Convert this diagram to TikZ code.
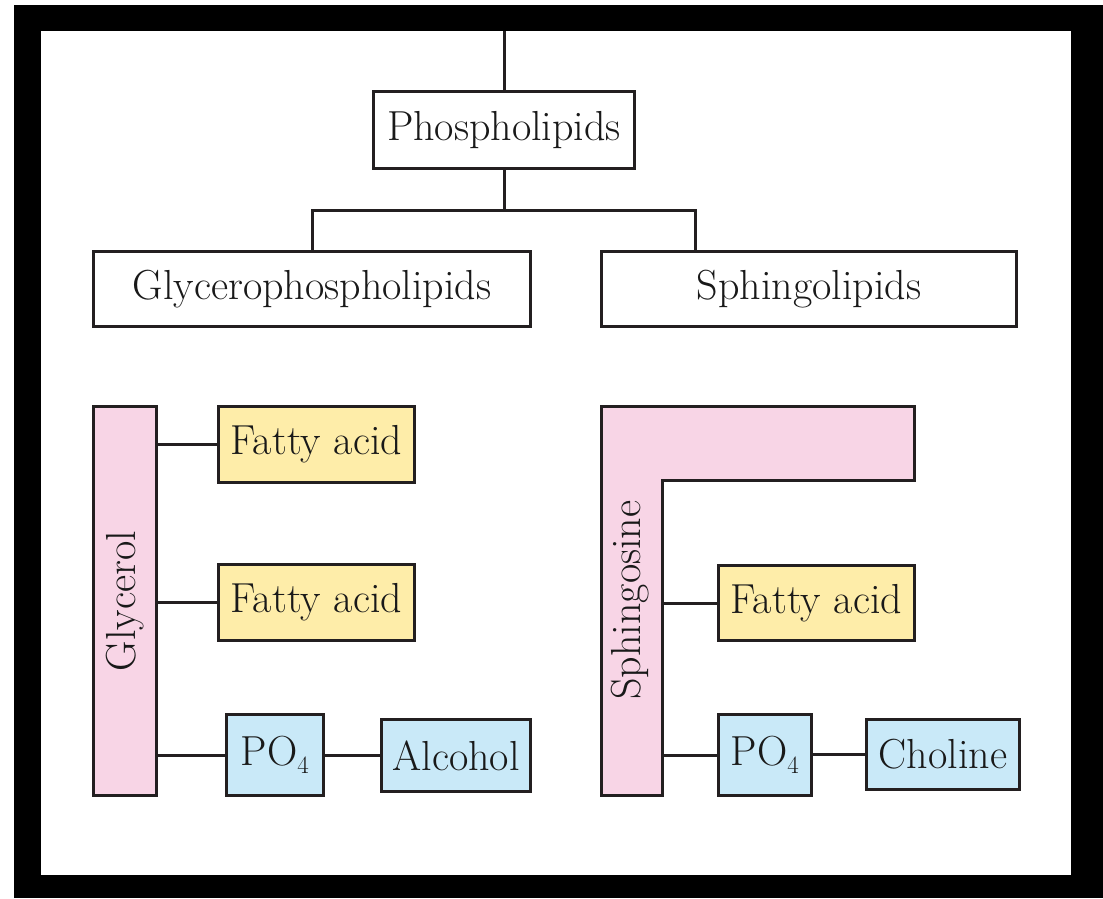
\documentclass[tikz,border=0pt]{standalone}
\definecolor{edge}{HTML}{231F20}
\definecolor{pinkfill}{HTML}{F8D5E6}
\definecolor{yellowfill}{HTML}{FEEDA9}
\definecolor{bluefill}{HTML}{C9E9F8}
\begin{document}
\begin{tikzpicture}[x=1pt,y=-1pt,
    every node/.style={font=\fontsize{42}{48}\selectfont, text=black!90},
    box/.style={draw=edge, line width=3pt, fill=white, inner sep=0pt},
    fatbox/.style={box, fill=yellowfill, minimum width=196pt, minimum height=76pt},
    phobox/.style={box, fill=bluefill},
    barbox/.style={box, fill=pinkfill}]
      \useasboundingbox (0,0) rectangle (1103,898);
      \fill[black] (14,5) rectangle (1103,898);
      \fill[white] (41,31) rectangle (1071,875);
      \draw
        (504,130) node[box, minimum width=261pt, minimum height=77pt] (phos){Phospholipids}
        (312,289) node[box, minimum width=437pt, minimum height=75pt] (glp){Glycerophospholipids}
        (809,289) node[box, minimum width=415pt, minimum height=75pt] (sph){Sphingolipids}
        (125,601) node[barbox, minimum width=63pt, minimum height=389pt] (gly){}
        (316.5,444.5) node[fatbox] (fa1){Fatty acid}
        (316.5,602.5) node[fatbox] (fa2){Fatty acid}
        (275,755) node[phobox, minimum width=97pt, minimum height=81pt] (po1){PO$_4$}
        (456,755.5) node[phobox, minimum width=149pt, minimum height=72pt] (alc){Alcohol}
        (816.5,603) node[fatbox, minimum height=75pt] (fa3){Fatty acid}
        (765,755) node[phobox, minimum width=93pt, minimum height=81pt] (po2){PO$_4$}
        (943,754.5) node[phobox, minimum width=153pt, minimum height=70pt] (cho){Choline};
      % sphingosine backbone
      \draw[barbox] (601.5,406.5) -- (914.5,406.5) -- (914.5,480.5) -- (662.5,480.5)
        -- (662.5,795.5) -- (601.5,795.5) -- cycle;
      \node[rotate=90] (glyname) at (gly) {Glycerol};
      \node[rotate=90] (sphname) at (630,600) {Sphingosine};
      \coordinate (top) at (504,31);
      \coordinate (fork) at (504,210);
      \coordinate (sphbar) at (662.5,600);
      \begin{scope}[draw=edge, line width=3pt]
        \draw (top) to (phos.north);
        \draw (phos.south) to (fork);
        \draw (fork) -| (glp.north);
        \draw (fork) -| ([xshift=-114pt]sph.north);
        \draw (gly.east |- fa1) to (fa1.west);
        \draw (gly.east |- fa2) to (fa2.west);
        \draw (gly.east |- po1) to (po1.west);
        \draw (po1.east |- alc) to (alc.west);
        \draw (sphbar |- fa3) to (fa3.west);
        \draw (sphbar |- po2) to (po2.west);
        \draw (po2.east |- cho) to (cho.west);
      \end{scope}
    \end{tikzpicture}
\end{document}
